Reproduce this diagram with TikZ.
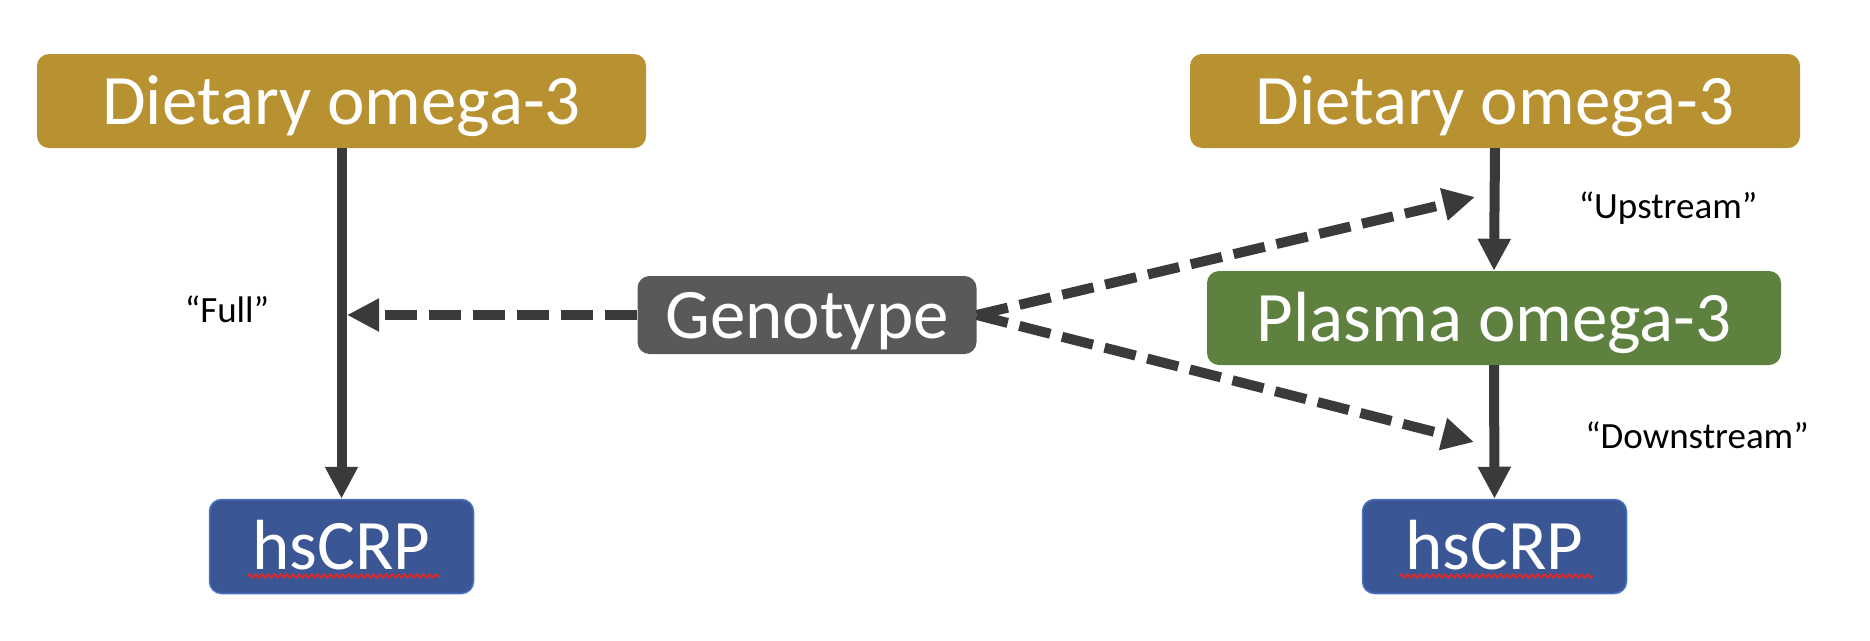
\documentclass[tikz,border=0pt]{standalone}
\usepackage{fontspec}
\setmainfont{Carlito}
\usetikzlibrary{arrows.meta,calc,decorations.pathmorphing}
\definecolor{goldbox}{HTML}{B89131}
\definecolor{greenbox}{HTML}{5E8140}
\definecolor{graybox}{HTML}{595959}
\definecolor{bluebox}{HTML}{3A5694}
\definecolor{blueedge}{HTML}{4A72C4}
\definecolor{arrowc}{HTML}{3B3A3B}
\definecolor{spellred}{HTML}{E02828}
\tikzset{
  box/.style={rounded corners=12pt, inner sep=0pt, text=white,
    font=\fontsize{71}{71}\selectfont, text height=46pt, text depth=0pt},
  lab/.style={inner sep=0pt, anchor=base, font=\fontsize{37}{37}\selectfont, text=black},
  solidarrow/.style={draw=arrowc, line width=10pt, -{Triangle[width=31pt,length=32pt]}},
  dasharrow/.style={draw=arrowc, line width=10pt, dash pattern=on 32pt off 12pt, -{Triangle[width=31pt,length=32pt]}},
  spell/.style={draw=spellred, line width=1.8pt, decorate, decoration={zigzag, amplitude=1.8pt, segment length=6.2pt}}
}
\begin{document}
\begin{tikzpicture}[x=1pt,y=-1pt]
\useasboundingbox (0,0) rectangle (1870,640);
% nodes
\node[box, fill=goldbox, minimum width=609pt, minimum height=94pt] (Ld) at (341.5,101) {Dietary omega-3};
\node[box, fill=bluebox, draw=blueedge, line width=1.5pt, minimum width=264pt, minimum height=94pt] (Lh) at (341.5,546.5) {hsCRP};
\node[box, fill=graybox, minimum width=339pt, minimum height=78pt] (G) at (807,315) {Genotype};
\node[box, fill=goldbox, minimum width=610pt, minimum height=94pt] (Rd) at (1495,101) {Dietary omega-3};
\node[box, fill=greenbox, minimum width=574pt, minimum height=94pt] (P) at (1494,318) {Plasma omega-3};
\node[box, fill=bluebox, draw=blueedge, line width=1.5pt, minimum width=264pt, minimum height=94pt] (Rh) at (1494.5,546.5) {hsCRP};
% labels
\node[lab] (full) at (227,322) {“Full”};
\node[lab] (up) at (1668,218) {“Upstream”};
\node[lab] (down) at (1697,448) {“Downstream”};
% spelling underline
\draw[spell] ($(Lh.center)+(-93.5,29.5)$) -- ($(Lh.center)+(98.5,29.5)$);
\draw[spell] ($(Rh.center)+(-94.5,29.5)$) -- ($(Rh.center)+(98.5,29.5)$);
% free ends
\coordinate (fullpt) at (347,315);
\coordinate (uppt) at (1475,197);
\coordinate (downpt) at (1474,442);
% connectors
\draw[solidarrow] (Ld.south) -- (Lh.north);
\draw[solidarrow] (Rd.south) -- (P.north);
\draw[solidarrow] (P.south) -- (Rh.north);
\draw[dasharrow] (G.west) -- (fullpt);
\draw[dasharrow] (G.east) -- (uppt);
\draw[dasharrow] (G.east) -- (downpt);
\end{tikzpicture}
\end{document}
